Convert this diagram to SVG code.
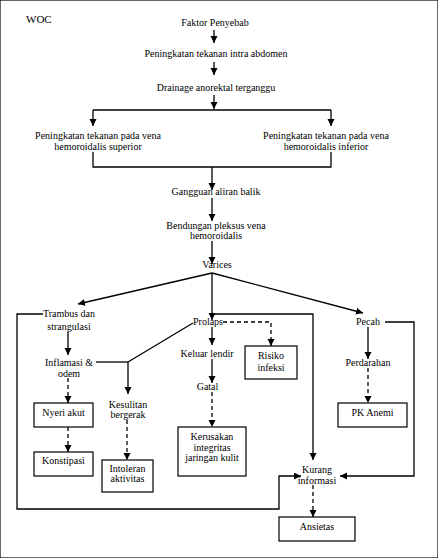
<svg xmlns="http://www.w3.org/2000/svg" width="438" height="558" viewBox="0 0 438 558">
<style>
text{font-family:"Liberation Serif","Times New Roman",serif;font-size:10px;fill:#000;text-anchor:middle}
.c path,.c polyline,.c line{fill:none;stroke:#000;stroke-width:1.3}
.d{stroke-dasharray:4 3}
rect{fill:none;stroke:#000;stroke-width:1.2}
</style>
<defs>
<marker id="a" markerUnits="userSpaceOnUse" markerWidth="8" markerHeight="8" refX="7" refY="3.5" orient="auto">
<path d="M0,0 L7,3.5 L0,7 z" fill="#000"/>
</marker>
</defs>
<rect x="0" y="0" width="438" height="558" fill="#f5f5f5" stroke="none"/>
<g id="title"><text x="26" y="23" style="text-anchor:start;font-size:11px">WOC</text></g>

<g class="c" id="connectors">
<line x1="214" y1="30" x2="214" y2="43" marker-end="url(#a)"/>
<line x1="214" y1="62" x2="214" y2="75" marker-end="url(#a)"/>
<line x1="214" y1="95" x2="214" y2="109" marker-end="url(#a)"/>
<line x1="93" y1="110" x2="331" y2="110"/>
<line x1="93" y1="110" x2="93" y2="126" marker-end="url(#a)"/>
<line x1="331" y1="110" x2="331" y2="126" marker-end="url(#a)"/>
<polyline points="93,152 93,167 331,167 331,152"/>
<line x1="212" y1="167" x2="212" y2="190" marker-end="url(#a)"/>
<line x1="212" y1="198" x2="212" y2="221" marker-end="url(#a)"/>
<line x1="212" y1="241" x2="212" y2="264" marker-end="url(#a)"/>
<line x1="212" y1="273" x2="78" y2="304" marker-end="url(#a)"/>
<line x1="212" y1="273" x2="212" y2="320" marker-end="url(#a)"/>
<line x1="212" y1="273" x2="363" y2="313" marker-end="url(#a)"/>
<polyline points="212,314 313,314 313,460" marker-end="url(#a)"/>
<polyline points="43,314 17,314 17,509 279,509 279,476 301,476" marker-end="url(#a)"/>
<line x1="68" y1="332" x2="68" y2="355" marker-end="url(#a)"/>
<line x1="96" y1="362" x2="128" y2="362"/>
<line x1="128" y1="362" x2="193" y2="323"/>
<line x1="128" y1="362" x2="128" y2="394" marker-end="url(#a)"/>
<line class="d" x1="68" y1="378" x2="68" y2="403" marker-end="url(#a)"/>
<line class="d" x1="68" y1="427" x2="68" y2="452" marker-end="url(#a)"/>
<line class="d" x1="127" y1="420" x2="127" y2="460" marker-end="url(#a)"/>
<polyline class="d" points="223,322 271,322 271,346" marker-end="url(#a)"/>
<line x1="212" y1="327" x2="212" y2="345" marker-end="url(#a)"/>
<line x1="212" y1="359" x2="212" y2="383" marker-end="url(#a)"/>
<line class="d" x1="212" y1="392" x2="212" y2="427" marker-end="url(#a)"/>
<polyline points="385,322 414,322 414,476 340,476" marker-end="url(#a)"/>
<line x1="368" y1="327" x2="368" y2="359" marker-end="url(#a)"/>
<line class="d" x1="368" y1="368" x2="368" y2="403" marker-end="url(#a)"/>
<line class="d" x1="313" y1="485" x2="313" y2="517" marker-end="url(#a)"/>
</g>

<g id="faktor"><text x="215" y="26">Faktor Penyebab</text></g>
<g id="intra"><text x="216" y="57">Peningkatan tekanan intra abdomen</text></g>
<g id="drainage"><text x="216" y="91">Drainage anorektal terganggu</text></g>
<g id="vena-sup"><text x="98" y="139">Peningkatan tekanan pada vena</text><text x="98" y="150">hemoroidalis superior</text></g>
<g id="vena-inf"><text x="326" y="139">Peningkatan tekanan pada vena</text><text x="326" y="150">hemoroidalis inferior</text></g>
<g id="gangguan"><text x="216" y="195">Gangguan aliran balik</text></g>
<g id="bendungan"><text x="216" y="229">Bendungan pleksus vena</text><text x="216" y="239">hemoroidalis</text></g>
<g id="varices"><text x="217" y="268">Varices</text></g>
<g id="trambus"><text x="69" y="317">Trambus dan</text><text x="69" y="330">strangulasi</text></g>
<g id="inflamasi"><text x="69" y="366">Inflamasi &amp;</text><text x="69" y="377">odem</text></g>
<g id="kesulitan"><text x="128" y="408">Kesulitan</text><text x="128" y="418">bergerak</text></g>
<g id="nyeri"><rect x="34" y="403" width="59" height="24"/><text x="63.5" y="416">Nyeri akut</text></g>
<g id="konstipasi"><rect x="34" y="452" width="59" height="24"/><text x="63.5" y="464">Konstipasi</text></g>
<g id="intoleran"><rect x="102" y="460" width="51" height="32"/><text x="127.5" y="472">Intoleran</text><text x="127.5" y="482">aktivitas</text></g>
<g id="prolaps"><text x="208" y="325">Prolaps</text></g>
<g id="keluar"><text x="207" y="357">Keluar lendir</text></g>
<g id="gatal"><text x="207.5" y="390">Gatal</text></g>
<g id="kerusakan"><rect x="178" y="427" width="68" height="49"/><text x="212" y="440">Kerusakan</text><text x="212" y="451">integritas</text><text x="212" y="461">jaringan kulit</text></g>
<g id="risiko"><rect x="245" y="346" width="52" height="33"/><text x="271" y="359">Risiko</text><text x="271" y="371">infeksi</text></g>
<g id="pecah"><text x="368" y="325">Pecah</text></g>
<g id="perdarahan"><text x="368" y="366">Perdarahan</text></g>
<g id="anemi"><rect x="338" y="403" width="69" height="24"/><text x="372.5" y="416">PK Anemi</text></g>
<g id="kurang"><text x="317" y="473">Kurang</text><text x="317" y="484">informasi</text></g>
<g id="ansietas"><rect x="279" y="517" width="76" height="24"/><text x="317" y="530">Ansietas</text></g>
</svg>
